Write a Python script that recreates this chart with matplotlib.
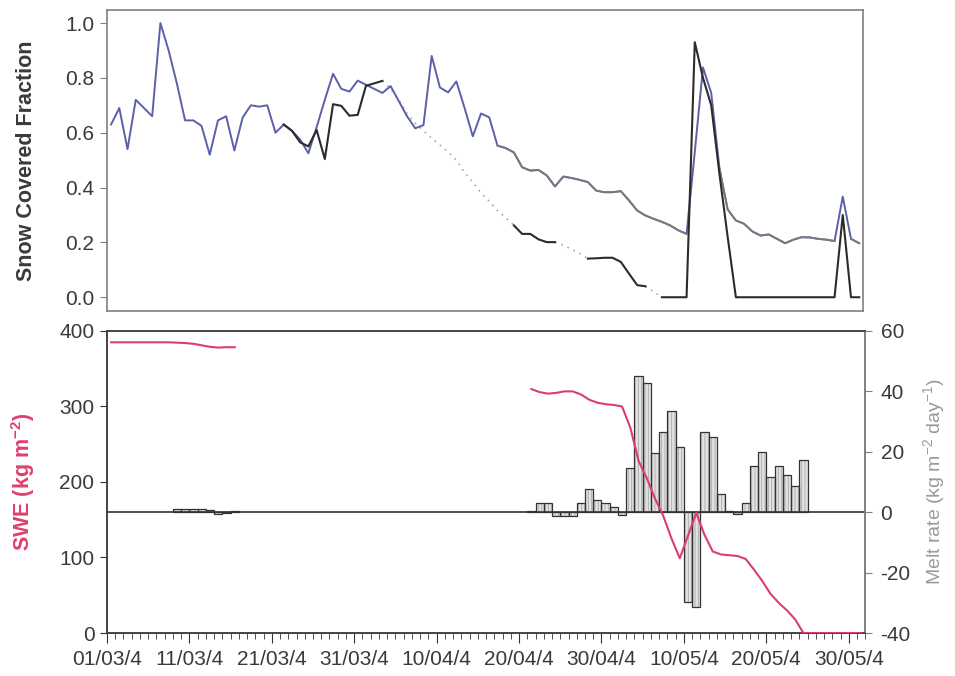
import numpy as np
import matplotlib
matplotlib.use('Agg')
import matplotlib.pyplot as plt
from matplotlib.ticker import MultipleLocator

plt.rcParams['font.family'] = ['Liberation Sans', 'DejaVu Sans']
plt.rcParams['axes.unicode_minus'] = False
plt.rcParams['mathtext.fontset'] = 'custom'
plt.rcParams['mathtext.rm'] = 'Liberation Sans'
plt.rcParams['mathtext.bf'] = 'Liberation Sans:bold'

N_DAYS = 92  # 01/03 .. 31/05

def seg(start, values):
    out = np.full(N_DAYS, np.nan)
    out[start:start + len(values)] = values
    return out

# snow covered fraction, observed (blue line)
scf_obs = [0.63, 0.69, 0.54, 0.72, 0.69, 0.66, 1.00, 0.90, 0.78, 0.645,
           0.645, 0.625, 0.52, 0.645, 0.66, 0.535, 0.655, 0.70, 0.695, 0.70,
           0.60, 0.63, 0.607, 0.575, 0.525, 0.62, 0.72, 0.815, 0.76, 0.75,
           0.79, 0.775, 0.76, 0.745, 0.77, 0.715, 0.66, 0.616, 0.628, 0.88,
           0.765, 0.747, 0.787, 0.69, 0.587, 0.67, 0.656, 0.553, 0.544, 0.528,
           0.474, 0.462, 0.464, 0.444, 0.404, 0.44, 0.435, 0.428, 0.42, 0.389,
           0.383, 0.383, 0.387, 0.353, 0.316, 0.298, 0.286, 0.275, 0.262, 0.244,
           0.231, 0.53, 0.838, 0.745, 0.47, 0.32, 0.28, 0.268, 0.24, 0.225,
           0.229, 0.213, 0.197, 0.21, 0.219, 0.218, 0.213, 0.21, 0.205, 0.367,
           0.213, 0.197]

# modelled fraction (dark line), pieces separated by gaps
scf_mod_a = [0.63, 0.607, 0.565, 0.55, 0.61, 0.504, 0.704, 0.698, 0.662,
             0.665, 0.771, 0.78, 0.789]                       # from 22/03
scf_mod_b = [0.262, 0.231, 0.231, 0.211, 0.201, 0.201]        # from 19/04
scf_mod_c = [0.141, 0.142, 0.144, 0.144, 0.129, 0.086, 0.044, 0.04]  # from 28/04
scf_mod_d = [0, 0, 0, 0, 0.93, 0.80, 0.70, 0.45, 0.22] + [0] * 13 + [0.30, 0, 0]  # from 07/05

# gap-filled values (dotted)
scf_gap_a = [0.789, 0.76, 0.72, 0.67, 0.635, 0.607, 0.58, 0.555, 0.53, 0.50,
             0.455, 0.42, 0.38, 0.35, 0.316, 0.29, 0.262]   # from 03/04
scf_gap_b = [0.201, 0.19, 0.175, 0.16, 0.141]              # from 24/04
scf_gap_c = [0.04, 0.02, 0.0]                               # from 05/05

# SWE (kg m-2)
swe_a = [385, 385, 385, 385, 385, 385, 385, 385, 384.5, 384, 383, 381, 379,
         378, 378.5, 378.5]                                  # from 01/03
swe_b = [323, 319, 317, 318, 320, 320, 316, 309, 305, 303,
         302, 300, 272, 228, 205, 178, 155, 125, 99, 129,
         159, 130, 108, 104, 103, 102, 98, 84, 69, 52,
         40, 30, 18, 0, 0, 0, 0, 0, 0, 0, 0]                 # from 21/04

# melt rate (kg m-2 day-1)
melt_a = [0.9, 1.0, 1.0, 0.9, 0.6, -0.5, -0.4, 0.4]         # from 09/03
melt_b = [0.4, 3.1, 2.9, -1.2, -1.2, -1.2, 2.9, 7.6, 4.0, 2.9,
          1.8, -0.9, 14.7, 45.1, 42.7, 19.5, 26.6, 33.6, 21.7, -29.6,
          -31.5, 26.6, 25.0, 6.0, 0.4, -0.7, 2.9, 15.3, 19.8, 11.6,
          15.3, 12.3, 8.8, 17.2]                             # from 21/04

date_labels = ['01/03/4', '11/03/4', '21/03/4', '31/03/4', '10/04/4',
               '20/04/4', '30/04/4', '10/05/4', '20/05/4', '30/05/4']

days = np.arange(N_DAYS) + 0.5
obs = np.array(scf_obs)
mod = seg(21, scf_mod_a)
mod = np.where(np.isnan(mod), seg(49, scf_mod_b), mod)
mod = np.where(np.isnan(mod), seg(58, scf_mod_c), mod)
mod = np.where(np.isnan(mod), seg(67, scf_mod_d), mod)
gap = seg(33, scf_gap_a)
gap = np.where(np.isnan(gap), seg(54, scf_gap_b), gap)
gap = np.where(np.isnan(gap), seg(65, scf_gap_c), gap)
swe = np.where(np.isnan(seg(0, swe_a)), seg(51, swe_b), seg(0, swe_a))
melt = np.where(np.isnan(seg(8, melt_a)), seg(51, melt_b), seg(8, melt_a))

# grey look of the observed line in the later part (spikes stay blue)
grey = obs.copy()
grey[:47] = np.nan
grey[71:74] = np.nan
grey[89] = np.nan

fig = plt.figure(figsize=(9.55, 6.76), dpi=100)
ax1 = fig.add_axes([0.112, 0.540, 0.792, 0.445])
ax2 = fig.add_axes([0.112, 0.0636, 0.794, 0.4468])
ax3 = ax2.twinx()

frame = '#808080'
txt = '#3a3a3a'
FS = 15

# ---- top panel
ax1.plot(days, obs, color='#5b60a8', lw=1.4, zorder=3)
ax1.plot(days, grey, color='#7a7a7a', lw=1.3, zorder=4)
ax1.plot(days, gap, color='#a8a8a8', lw=1.2, ls=(0, (1, 3)), zorder=2)
ax1.plot(days, mod, color='#2b2b2b', lw=1.5, zorder=5)
ax1.set_xlim(0, N_DAYS)
ax1.set_ylim(-0.05, 1.047)
ax1.set_yticks(np.arange(0, 1.01, 0.2))
ax1.set_yticklabels([f'{v:.1f}' for v in np.arange(0, 1.01, 0.2)])
ax1.set_xticks([])
ax1.tick_params(axis='y', direction='out', length=5, color=frame,
                labelsize=FS, labelcolor=txt, pad=4)
for s in ax1.spines.values():
    s.set_color(frame)
    s.set_linewidth(1.2)
ax1.set_ylabel('Snow Covered Fraction', fontsize=15.5, fontweight='bold', color=txt, labelpad=20)

# ---- bottom panel: bars on the right axis, SWE on the left axis
plt.rcParams['hatch.linewidth'] = 0.6
ax3.bar(days, melt, width=1.0, color='#e2e2e2', edgecolor='#a8a8a8', linewidth=0,
        hatch='|||||', zorder=2)
ax3.bar(days, melt, width=1.0, facecolor='none', edgecolor='#333333', linewidth=0.9, zorder=3)
ax3.axhline(0, color='#333333', lw=1.2, zorder=4)
ax3.set_ylim(-40, 60)
ax3.set_yticks(range(-40, 61, 20))
ax3.tick_params(axis='y', direction='out', length=5, color=frame,
                labelsize=FS, labelcolor=txt, pad=6)
ax3.set_ylabel('Melt rate (kg m$^{-2}$ day$^{-1}$)', fontsize=14, color='#9a9a9a', labelpad=8)

ax2.set_zorder(ax3.get_zorder() + 1)
ax2.patch.set_visible(False)
ax2.plot(days, swe, color='#dc3c6e', lw=1.5, zorder=5)
ax2.set_ylim(0, 400)
ax2.set_yticks(range(0, 401, 100))
ax2.set_xlim(0, N_DAYS)
ax2.set_xticks(range(0, 91, 10))
ax2.set_xticklabels(date_labels)
ax2.xaxis.set_minor_locator(MultipleLocator(1))
ax2.tick_params(axis='x', which='major', direction='out', length=7, color='#333333',
                labelsize=FS, labelcolor=txt, pad=5)
ax2.tick_params(axis='x', which='minor', direction='out', length=4, color='#333333')
ax2.tick_params(axis='y', direction='out', length=5, color='#333333',
                labelsize=FS, labelcolor=txt, pad=4)
ax2.set_ylabel(r'SWE (kg m$^{\mathbf{-2}}$)', fontsize=15.5, fontweight='bold',
               color='#e0406e', labelpad=16)

for a in (ax2, ax3):
    for k, s in a.spines.items():
        s.set_linewidth(1.2)
        s.set_color('#444444')
    a.spines['right'].set_color(frame)

plt.savefig('out.png', dpi=100, facecolor='white')
